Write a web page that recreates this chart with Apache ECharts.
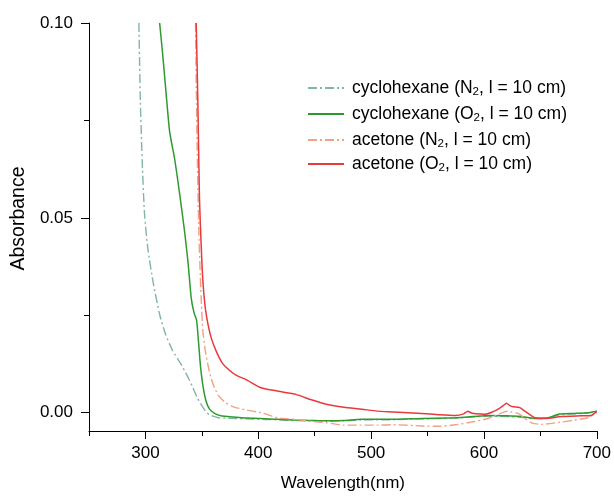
<!DOCTYPE html>
<html><head><meta charset="utf-8">
<script src="https://cdn.jsdelivr.net/npm/echarts@6/dist/echarts.min.js"></script>
<style>html,body{margin:0;padding:0;background:#fff}#c{width:614px;height:497px}</style>
</head><body><div id="c"></div>
<script>
const seriesNames = ['cyclohexane (N2, l = 10 cm)', 'cyclohexane (O2, l = 10 cm)', 'acetone (N2, l = 10 cm)', 'acetone (O2, l = 10 cm)'];

const cycN2_wl = [294.2, 295.5, 297.2, 299.2, 302.2, 306.7, 312.6, 318, 324, 331, 337, 342, 346, 350, 354, 358, 364.6, 372, 380, 390, 400, 415, 430, 445, 460, 475, 490, 505, 520, 540, 560, 575, 590, 604, 620, 633, 645, 657, 666, 680, 692, 700];
const cycN2_abs = [0.1, 0.080, 0.064, 0.051, 0.042, 0.0337, 0.0252, 0.020, 0.016, 0.0127, 0.0095, 0.0065, 0.0038, 0.0018, 0.0001, -0.0007, -0.0013, -0.0014, -0.0015, -0.0016, -0.0017, -0.0018, -0.002, -0.0021, -0.0022, -0.0021, -0.0019, -0.0018, -0.0018, -0.0016, -0.0015, -0.0014, -0.0011, -0.0009, -0.001, -0.0012, -0.0016, -0.0014, -0.0006, -0.0003, -0.0001, 0.0003];

const cycO2_wl = [312.6, 315.3, 318.4, 321.5, 325.9, 330.3, 334.7, 337.8, 340.6, 343.1, 345.3, 347.1, 348.8, 351, 353.7, 356.8, 362, 367, 373, 385, 402, 417, 432, 446, 461, 476, 491, 516, 545, 574, 590, 604, 620, 633, 645, 657, 666, 680, 692, 700];
const cycO2_abs = [0.1, 0.0919, 0.0817, 0.072, 0.0651, 0.0562, 0.0465, 0.0384, 0.0294, 0.0256, 0.0238, 0.018, 0.0119, 0.0068, 0.003, 0.0009, -0.0003, -0.0008, -0.001, -0.0013, -0.0015, -0.0017, -0.0019, -0.002, -0.0021, -0.002, -0.0017, -0.0017, -0.0015, -0.0013, -0.001, -0.0007, -0.0008, -0.001, -0.0014, -0.0013, -0.0004, -0.0002, 0, 0.0004];

const acN2_wl = [344.4, 345.6, 347.3, 349.4, 350.9, 353, 355.3, 358, 361.1, 365, 370.9, 378, 387.6, 402.4, 416.8, 431.8, 446, 460.9, 475.9, 490, 505, 520, 545, 559.7, 575, 589.1, 603.8, 612, 617, 621.5, 625, 630.3, 636, 642.1, 650.9, 668.5, 680, 692, 700];
const acN2_abs = [0.1, 0.072, 0.0465, 0.0294, 0.021, 0.016, 0.0124, 0.009, 0.0065, 0.0043, 0.0026, 0.0015, 0.0008, 0, -0.0013, -0.0017, -0.0022, -0.0026, -0.0032, -0.0032, -0.0032, -0.0031, -0.0034, -0.0035, -0.0031, -0.0024, -0.0015, -0.0005, 0.0001, 0.0004, 0.0001, -0.0002, -0.0014, -0.0026, -0.003, -0.0024, -0.0019, -0.0013, 0];

const acO2_wl = [345.0, 346.4, 347.9, 349.4, 350.9, 353, 355.5, 358.5, 362.7, 368, 374.4, 381, 389.2, 402.4, 418, 433.3, 447, 461.2, 476, 491.8, 505.3, 520, 545, 560, 574.4, 582, 585.6, 589, 593, 600.9, 607, 612.6, 617, 620, 623, 625.9, 631.8, 636.2, 645, 653.9, 668.5, 686.2, 695, 700];
const acO2_abs = [0.1, 0.0804, 0.0549, 0.043, 0.0338, 0.027, 0.0226, 0.019, 0.0158, 0.0128, 0.0109, 0.0095, 0.0085, 0.0064, 0.0055, 0.0047, 0.0033, 0.0021, 0.0014, 0.0009, 0.0004, 0.0002, -0.0002, -0.0005, -0.0007, -0.0003, 0.0004, -0.0001, -0.0003, -0.0004, 0.0001, 0.0009, 0.0018, 0.0024, 0.0018, 0.0015, 0.0013, 0.0004, -0.0013, -0.0015, -0.001, -0.0008, -0.0007, 0.0004];

const xMajorTicks = [300, 400, 500, 600, 700];
const xMinorTicks = [250, 350, 450, 550, 650];
const yMajorTicks = [0, 0.05, 0.1];
const yMinorTicks = [0.025, 0.075];

function zip(a, b) { return a.map((v, i) => [v, b[i]]); }

const FONT = 'Liberation Sans';
const colors = ['#7fb6a4', '#2e9a2e', '#f4a084', '#e8393c'];
const dashDot = [9, 3, 2, 3];

function legendLabel(name) {
  const m = name.match(/^(.*\()([NO])2(, .*)$/);
  return '{p|}{a|' + m[1] + m[2] + '}{s|2}{a|' + m[3] + '}';
}

const legendTops = [79, 105, 131, 155];
const legends = seriesNames.map((n, i) => ({
  data: [n],
  left: 307,
  top: legendTops[i],
  padding: 0,
  itemWidth: 36,
  itemHeight: 14,
  formatter: legendLabel,
  itemStyle: { color: 'rgba(0,0,0,0)', borderWidth: 0, opacity: 0 },
  textStyle: {
    color: '#000',
    rich: {
      p: { width: 3 },
      a: { fontSize: 17.5, fontFamily: FONT, color: '#000' },
      s: { fontSize: 11.5, fontFamily: FONT, color: '#000', padding: [8, 0, 0, 0] }
    }
  }
}));

const axisLine = { show: true, onZero: false, lineStyle: { color: '#000', width: 1 } };
const Y_MIN = -0.0047;

const option = {
  backgroundColor: '#fff',
  animation: false,
  grid: { left: 89, right: 15, top: 23, bottom: 62 },
  legend: legends,
  xAxis: [{
    type: 'value', min: 250, max: 700,
    name: 'Wavelength(nm)', nameLocation: 'middle', nameGap: 44,
    nameTextStyle: { fontSize: 17, fontFamily: FONT, color: '#000' },
    axisLine: axisLine,
    axisTick: { show: true, customValues: xMajorTicks, length: 8, lineStyle: { color: '#000' } },
    axisLabel: { customValues: xMajorTicks, fontSize: 17, fontFamily: FONT, color: '#000', margin: 14 },
    splitLine: { show: false }
  }, {
    type: 'value', min: 250, max: 700, position: 'bottom',
    axisLine: { show: false, onZero: false },
    axisTick: { show: true, customValues: xMinorTicks, length: 5, lineStyle: { color: '#000' } },
    axisLabel: { show: false },
    splitLine: { show: false }
  }],
  yAxis: [{
    type: 'value', min: Y_MIN, max: 0.1,
    name: 'Absorbance', nameLocation: 'middle', nameGap: 59,
    nameTextStyle: { fontSize: 19.5, fontFamily: FONT, color: '#000', padding: [0, 0, 0, 17] },
    axisLine: axisLine,
    axisTick: { show: true, customValues: yMajorTicks, length: 8, lineStyle: { color: '#000' } },
    axisLabel: { customValues: yMajorTicks, fontSize: 17, fontFamily: FONT, color: '#000', margin: 16,
      formatter: v => v.toFixed(2) },
    splitLine: { show: false }
  }, {
    type: 'value', min: Y_MIN, max: 0.1, position: 'left',
    axisLine: { show: false, onZero: false },
    axisTick: { show: true, customValues: yMinorTicks, length: 5, lineStyle: { color: '#000' } },
    axisLabel: { show: false },
    splitLine: { show: false }
  }],
  series: [
    { name: seriesNames[0], type: 'line', data: zip(cycN2_wl, cycN2_abs), symbol: 'none', smooth: 0.2,
      lineStyle: { color: colors[0], width: 1.4, type: dashDot }, itemStyle: { color: colors[0] } },
    { name: seriesNames[1], type: 'line', data: zip(cycO2_wl, cycO2_abs), symbol: 'none', smooth: 0.2,
      lineStyle: { color: colors[1], width: 1.5 }, itemStyle: { color: colors[1] } },
    { name: seriesNames[2], type: 'line', data: zip(acN2_wl, acN2_abs), symbol: 'none', smooth: 0.2,
      lineStyle: { color: colors[2], width: 1.4, type: dashDot }, itemStyle: { color: colors[2] } },
    { name: seriesNames[3], type: 'line', data: zip(acO2_wl, acO2_abs), symbol: 'none', smooth: 0.2,
      lineStyle: { color: colors[3], width: 1.5 }, itemStyle: { color: colors[3] } }
  ]
};

const chart = echarts.init(document.getElementById('c'), null, { renderer: 'canvas' });
chart.setOption(option);
</script>
</body></html>
